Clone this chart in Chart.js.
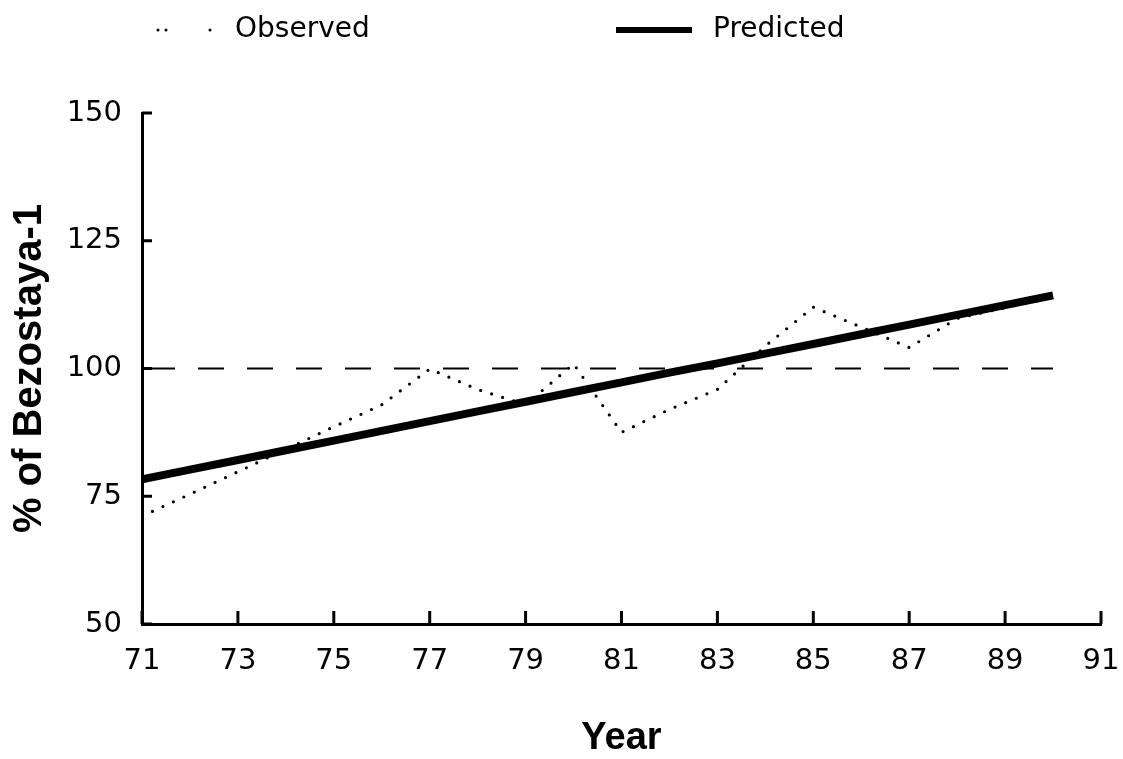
<!DOCTYPE html>
<html><head><meta charset="utf-8">
<script src="https://cdn.jsdelivr.net/npm/chart.js@4/dist/chart.umd.min.js"></script>
<style>html,body{margin:0;padding:0;background:#fff}#wrap{width:1123px;height:759px}</style>
</head><body><div id="wrap"><canvas id="c" width="1123" height="759"></canvas></div>
<script>
// ---- data ----
const years = [71,72,73,74,75,76,77,78,79,80,81,82,83,84,85,86,87,88,89,90];
const observed = [71.1,75.4,79.8,84.2,88.6,92.9,99.9,95.9,92.9,100.9,87.5,92.0,95.9,104.4,112.0,108.1,104.1,109.8,111.9,113.9];
const predicted = [78.3,80.2,82.1,84.0,85.9,87.8,89.7,91.6,93.5,95.4,97.3,99.2,101.0,102.9,104.8,106.7,108.6,110.5,112.4,114.3];
const referenceYears = [71,90];
const referenceLevel = [100,100];
const xTickValues = [71,73,75,77,79,81,83,85,87,89,91];
const yTickValues = [50,75,100,125,150];
const seriesLabels = ['Observed','Predicted'];
const xTitle = 'Year';
const yTitle = '% of Bezostaya-1';

const toXY = (xs, ys) => xs.map((x,i)=>({x, y: ys[i]}));

const inwardTicks = {
  id: 'inwardTicks',
  afterDraw(chart) {
    const ctx = chart.ctx, xs = chart.scales.x, ys = chart.scales.y, ca = chart.chartArea;
    ctx.save();
    ctx.strokeStyle = '#000'; ctx.lineWidth = 3; ctx.lineCap = 'butt';
    ctx.beginPath();
    xs.ticks.forEach(t => { const px = xs.getPixelForValue(t.value); ctx.moveTo(px, ca.bottom); ctx.lineTo(px, ca.bottom - 13); });
    ys.ticks.forEach(t => { const py = ys.getPixelForValue(t.value); ctx.moveTo(ca.left, py); ctx.lineTo(ca.left + 10, py); });
    ctx.stroke();
    ctx.restore();
  }
};

const customLegend = {
  id: 'customLegend',
  afterDraw(chart) {
    const ctx = chart.ctx;
    const items = [
      {ds: chart.data.datasets[0], x0: 158, x1: 212, tx: 235, dash: [0, 8, 0, 44], width: 3},
      {ds: chart.data.datasets[1], x0: 616, x1: 692, tx: 713, dash: [], width: 6}
    ];
    const yMid = 30;
    ctx.save();
    items.forEach(it => {
      ctx.beginPath();
      ctx.strokeStyle = it.ds.borderColor;
      ctx.lineWidth = it.width;
      ctx.lineCap = it.ds.borderCapStyle || 'butt';
      ctx.setLineDash(it.dash);
      ctx.moveTo(it.x0, yMid); ctx.lineTo(it.x1, yMid);
      ctx.stroke();
      ctx.setLineDash([]);
      ctx.fillStyle = '#000';
      ctx.font = '28px "DejaVu Sans"';
      ctx.textAlign = 'left'; ctx.textBaseline = 'middle';
      ctx.fillText(it.ds.label, it.tx, yMid);
    });
    ctx.restore();
  }
};

new Chart(document.getElementById('c'), {
  type: 'line',
  data: {
    datasets: [
      {label: seriesLabels[0], data: toXY(years, observed), borderColor: '#000', borderWidth: 3.2,
       borderDash: [0, 11.5], borderCapStyle: 'round', pointRadius: 0, tension: 0, fill: false, order: 1},
      {label: seriesLabels[1], data: toXY(years, predicted), borderColor: '#000', borderWidth: 8,
       pointRadius: 0, tension: 0, fill: false, order: 0, borderCapStyle: 'butt'},
      {label: '', data: toXY(referenceYears, referenceLevel), borderColor: '#000', borderWidth: 2,
       borderDash: [26, 23], borderDashOffset: 42, pointRadius: 0, tension: 0, fill: false, order: 2}
    ]
  },
  options: {
    responsive: false, animation: false,
    layout: {padding: {top: 113, left: 0, right: 22, bottom: 0}},
    plugins: {legend: {display: false}, tooltip: {enabled: false}},
    scales: {
      x: {
        type: 'linear', min: 71, max: 91,
        afterBuildTicks: s => { s.ticks = xTickValues.map(v => ({value: v})); },
        afterFit: s => { s.height = 135; s.paddingLeft = 0; s.paddingRight = 0; },
        grid: {display: true, drawOnChartArea: false, drawTicks: false},
        border: {display: true, color: '#000', width: 3},
        ticks: {color: '#000', padding: 20, maxRotation: 0, autoSkip: false,
                font: {family: 'DejaVu Sans', size: 29}},
        title: {display: true, text: xTitle, color: '#000', padding: {top: 0, bottom: 1},
                font: {family: 'Liberation Sans', size: 38, weight: 'bold', lineHeight: 1}}
      },
      y: {
        type: 'linear', min: 50, max: 150,
        afterBuildTicks: s => { s.ticks = yTickValues.map(v => ({value: v})); },
        afterFit: s => { s.width = 142; s.paddingTop = 0; s.paddingBottom = 0; },
        grid: {display: true, drawOnChartArea: false, drawTicks: false},
        border: {display: true, color: '#000', width: 3},
        ticks: {color: '#000', padding: 20, font: {family: 'DejaVu Sans', size: 29}},
        title: {display: true, text: yTitle, color: '#000', padding: {top: 10, bottom: 0},
                font: {family: 'Liberation Sans', size: 40, weight: 'bold', lineHeight: 1}}
      }
    }
  },
  plugins: [inwardTicks, customLegend]
});
</script>
</body></html>
